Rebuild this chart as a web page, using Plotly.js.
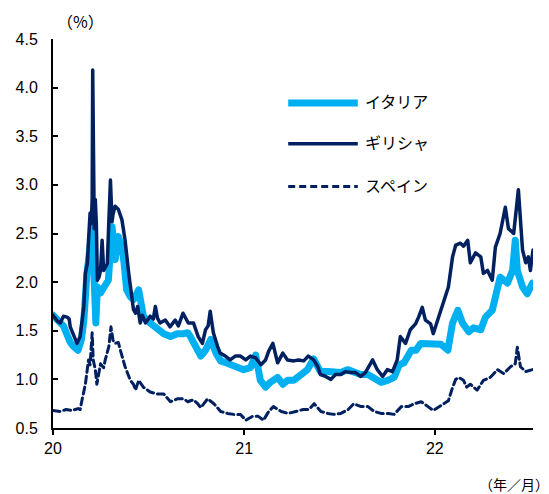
<!DOCTYPE html>
<html>
<head>
<meta charset="utf-8">
<script src="https://cdn.plot.ly/plotly-3.0.1.min.js"></script>
<style>
  html, body { margin: 0; padding: 0; background: #fff; }
  #chart { width: 549px; height: 494px; }
  .js-line { stroke-linejoin: round; stroke-linecap: round; }
</style>
</head>
<body>
<div id="chart"></div>
<script>
// 10-year government bond yields (%)
const seriesNames = ['イタリア', 'ギリシャ', 'スペイン'];

const italyDates = ['2020-01-01','2020-01-09','2020-01-15','2020-01-21','2020-01-28','2020-02-03','2020-02-09','2020-02-18','2020-02-24','2020-02-29',
  '2020-03-06','2020-03-12','2020-03-17','2020-03-20','2020-03-23','2020-03-26','2020-04-01','2020-04-09','2020-04-16','2020-04-23',
  '2020-04-29','2020-05-05','2020-05-12','2020-05-16','2020-05-21','2020-05-28','2020-06-03','2020-06-13','2020-06-22','2020-07-05',
  '2020-07-19','2020-07-31','2020-08-13','2020-08-26','2020-09-07','2020-09-15','2020-09-20','2020-09-26','2020-10-04','2020-10-10',
  '2020-10-19','2020-10-29','2020-11-08','2020-11-17','2020-11-27','2020-12-06','2020-12-20','2020-12-31','2021-01-13','2021-01-23',
  '2021-02-01','2021-02-11','2021-02-20','2021-03-06','2021-03-16','2021-03-25','2021-04-06','2021-04-19','2021-05-02','2021-05-14',
  '2021-05-27','2021-06-10','2021-06-21','2021-07-05','2021-07-18','2021-07-30','2021-08-12','2021-08-26','2021-09-06','2021-09-20',
  '2021-10-03','2021-10-15','2021-10-25','2021-11-03','2021-11-17','2021-11-26','2021-12-05','2021-12-24','2022-01-13','2022-01-26',
  '2022-02-04','2022-02-14','2022-02-23','2022-03-07','2022-03-16','2022-03-30','2022-04-08','2022-04-21','2022-05-01','2022-05-06',
  '2022-05-20','2022-05-30','2022-06-04','2022-06-08','2022-06-18','2022-06-27','2022-07-07'];
const italyValues = [1.66,1.60,1.58,1.55,1.44,1.38,1.34,1.30,1.40,1.60,
  2.09,2.36,2.60,2.00,1.58,1.95,1.89,1.96,2.02,2.57,
  2.23,2.47,2.36,2.20,1.92,1.85,1.82,1.92,1.65,1.58,
  1.51,1.47,1.44,1.47,1.47,1.48,1.44,1.37,1.27,1.24,
  1.30,1.41,1.27,1.19,1.17,1.15,1.13,1.10,1.12,1.25,
  0.99,0.92,0.97,1.02,0.95,0.99,0.99,1.04,1.10,1.21,
  1.08,1.08,1.08,1.07,1.10,1.07,1.05,1.05,1.01,0.97,
  0.99,1.02,1.15,1.17,1.30,1.30,1.37,1.37,1.36,1.30,
  1.58,1.71,1.58,1.49,1.53,1.51,1.64,1.71,1.92,2.05,
  1.99,2.12,2.43,2.12,1.95,1.88,1.99];

const greeceDates = ['2020-01-01','2020-01-09','2020-01-15','2020-01-21','2020-01-28','2020-02-01','2020-02-03','2020-02-09','2020-02-16','2020-02-22',
  '2020-02-29','2020-03-03','2020-03-07','2020-03-09','2020-03-12','2020-03-14','2020-03-16','2020-03-17','2020-03-19','2020-03-20',
  '2020-03-22','2020-03-24','2020-03-26','2020-03-29','2020-04-01','2020-04-04','2020-04-07','2020-04-10','2020-04-14','2020-04-17',
  '2020-04-20','2020-04-23','2020-04-25','2020-04-29','2020-05-05','2020-05-12','2020-05-18','2020-05-25','2020-06-01','2020-06-03',
  '2020-06-07','2020-06-11','2020-06-16','2020-06-20','2020-06-26','2020-07-05','2020-07-11','2020-07-15','2020-07-19','2020-07-24',
  '2020-08-03','2020-08-12','2020-08-22','2020-08-28','2020-09-01','2020-09-06','2020-09-16','2020-09-26','2020-10-05','2020-10-13',
  '2020-10-19','2020-10-24','2020-10-28','2020-11-03','2020-11-11','2020-11-16','2020-11-26','2020-12-05','2020-12-15','2020-12-25',
  '2021-01-04','2021-01-13','2021-01-23','2021-02-02','2021-02-11','2021-02-17','2021-02-25','2021-03-06','2021-03-16','2021-03-25',
  '2021-04-06','2021-04-15','2021-04-25','2021-05-04','2021-05-14','2021-05-22','2021-05-27','2021-06-06','2021-06-16','2021-06-25',
  '2021-07-05','2021-07-14','2021-07-24','2021-08-02','2021-08-12','2021-08-21','2021-09-04','2021-09-13','2021-09-23','2021-10-02',
  '2021-10-12','2021-10-21','2021-10-27','2021-11-06','2021-11-15','2021-11-25','2021-12-01','2021-12-08','2021-12-14','2021-12-24',
  '2021-12-29','2022-01-06','2022-01-15','2022-01-21','2022-01-27','2022-02-04','2022-02-10','2022-02-19','2022-02-25','2022-03-05',
  '2022-03-10','2022-03-20','2022-03-30','2022-04-04','2022-04-12','2022-04-21','2022-04-27','2022-05-06','2022-05-16','2022-05-22',
  '2022-06-01','2022-06-10','2022-06-14','2022-06-18','2022-06-24','2022-06-29','2022-07-03','2022-07-08'];
const greeceValues = [1.66,1.60,1.58,1.65,1.64,1.62,1.54,1.45,1.37,1.44,
  1.75,2.09,2.20,2.43,2.71,2.60,2.85,4.18,3.00,2.55,
  2.85,2.60,2.02,2.05,2.12,2.43,2.12,2.15,2.19,2.64,
  3.05,2.62,2.70,2.78,2.75,2.64,2.43,2.09,1.82,1.72,
  1.68,1.75,1.58,1.66,1.58,1.65,1.62,1.75,1.63,1.58,
  1.61,1.54,1.61,1.55,1.61,1.68,1.58,1.58,1.44,1.37,
  1.51,1.55,1.70,1.48,1.34,1.27,1.24,1.20,1.24,1.24,
  1.20,1.24,1.22,1.15,1.20,1.29,1.37,1.17,1.27,1.20,
  1.19,1.20,1.19,1.24,1.20,1.13,1.05,1.03,1.00,1.05,
  1.05,1.08,1.07,1.07,1.03,1.07,1.20,1.10,1.03,1.10,
  1.08,1.20,1.44,1.37,1.51,1.57,1.64,1.74,1.61,1.57,
  1.47,1.61,1.74,1.85,1.95,2.26,2.38,2.40,2.37,2.43,
  2.20,2.30,2.26,2.09,2.12,2.02,2.36,2.50,2.77,2.55,
  2.50,2.95,2.60,2.33,2.20,2.26,2.12,2.33];

const spainDates = ['2020-01-01','2020-01-15','2020-01-26','2020-02-07','2020-02-18','2020-02-22','2020-02-26','2020-03-03','2020-03-09','2020-03-12',
  '2020-03-16','2020-03-18','2020-03-22','2020-03-25','2020-04-01','2020-04-07','2020-04-10','2020-04-17','2020-04-21','2020-04-25',
  '2020-04-29','2020-05-05','2020-05-09','2020-05-18','2020-05-28','2020-06-03','2020-06-07','2020-06-13','2020-06-22','2020-07-05',
  '2020-07-19','2020-07-31','2020-08-13','2020-08-26','2020-09-07','2020-09-15','2020-09-20','2020-09-26','2020-10-04','2020-10-10',
  '2020-10-23','2020-11-04','2020-11-17','2020-11-30','2020-12-12','2020-12-25','2021-01-04','2021-01-17','2021-01-28','2021-02-07',
  '2021-02-17','2021-02-26','2021-03-13','2021-03-26','2021-04-10','2021-04-24','2021-05-05','2021-05-15','2021-05-28','2021-06-10',
  '2021-06-22','2021-07-05','2021-07-19','2021-07-30','2021-08-13','2021-08-26','2021-09-07','2021-09-20','2021-10-04','2021-10-15',
  '2021-10-29','2021-11-11','2021-11-23','2021-12-06','2021-12-19','2021-12-29','2022-01-04','2022-01-18','2022-01-27','2022-02-03',
  '2022-02-10','2022-02-16','2022-02-25','2022-03-03','2022-03-10','2022-03-23','2022-04-04','2022-04-17','2022-05-01','2022-05-13',
  '2022-05-26','2022-06-04','2022-06-08','2022-06-14','2022-06-24','2022-07-07'];
const spainValues = [0.68,0.67,0.69,0.68,0.70,0.69,0.80,0.95,1.20,1.15,
  1.48,1.20,1.10,0.95,1.16,1.12,1.20,1.34,1.54,1.40,
  1.37,1.38,1.30,1.13,0.99,0.95,0.89,0.99,0.92,0.87,
  0.85,0.85,0.77,0.80,0.80,0.77,0.78,0.79,0.75,0.71,
  0.80,0.75,0.67,0.65,0.64,0.64,0.58,0.62,0.62,0.58,
  0.67,0.72,0.67,0.65,0.67,0.69,0.69,0.75,0.67,0.65,
  0.64,0.65,0.69,0.75,0.72,0.72,0.67,0.65,0.65,0.64,
  0.72,0.72,0.75,0.77,0.72,0.68,0.70,0.75,0.78,0.90,
  1.00,1.02,0.99,0.92,0.95,0.89,0.99,1.02,1.10,1.06,
  1.13,1.16,1.33,1.13,1.08,1.10];

const yTicks = [0.5, 1.0, 1.5, 2.0, 2.5, 3.0, 3.5, 4.0, 4.5];
const yTickLabels = ['0.5', '1.0', '1.5', '2.0', '2.5', '3.0', '3.5', '4.0', '4.5'];
const xTicks = ['2020-01-01', '2021-01-01', '2022-01-01'];
const xTickLabels = ['20', '21', '22'];

const LIGHT = '#00B0F0';
const NAVY = '#002060';
const FONT = 'Liberation Sans, Arial, Noto Sans CJK JP, sans-serif';
const CJK = 'Noto Sans CJK JP, sans-serif';

const traces = [
  { x: italyDates, y: italyValues, name: seriesNames[0], type: 'scatter', mode: 'lines',
    line: { color: LIGHT, width: 7 } },
  { x: greeceDates, y: greeceValues, name: seriesNames[1], type: 'scatter', mode: 'lines',
    line: { color: NAVY, width: 3.5 } },
  { x: spainDates, y: spainValues, name: seriesNames[2], type: 'scatter', mode: 'lines',
    line: { color: NAVY, width: 3, dash: '7px,4px' } }
];

// legend block: sample line + label, stacked
const legendStyles = [
  { color: LIGHT, width: 7, dash: 'solid' },
  { color: NAVY, width: 3.5, dash: 'solid' },
  { color: NAVY, width: 3, dash: '7px,4px' }
];
const legendRows = [0.8355, 0.731, 0.621];
const shapes = [];
const annotations = [];
legendRows.forEach((yy, i) => {
  shapes.push({ type: 'line', xref: 'paper', yref: 'paper', x0: 0.49, x1: 0.635, y0: yy, y1: yy,
    line: legendStyles[i] });
  annotations.push({ xref: 'paper', yref: 'paper', x: 0.645, y: yy, xanchor: 'left', yanchor: 'middle',
    text: seriesNames[i], showarrow: false, font: { family: FONT, size: 16, color: '#000' } });
});
annotations.push({ xref: 'paper', yref: 'paper', x: 0.058, y: 1.045, xanchor: 'center', yanchor: 'middle',
  text: '（%）', showarrow: false, font: { family: CJK, size: 16, color: '#000' } });
annotations.push({ xref: 'paper', yref: 'paper', x: 0.883, y: -0.145, xanchor: 'left', yanchor: 'middle',
  text: '（年／月）', showarrow: false, font: { family: CJK, size: 14, color: '#000' } });

const layout = {
  width: 549, height: 494,
  margin: { l: 53, r: 16, t: 39, b: 66 },
  paper_bgcolor: '#fff', plot_bgcolor: '#fff',
  showlegend: false,
  font: { family: FONT, size: 16, color: '#000' },
  xaxis: {
    type: 'date', range: ['2020-01-01', '2022-07-08'],
    tickmode: 'array', tickvals: xTicks, ticktext: xTickLabels,
    ticks: 'outside', ticklen: 5, tickwidth: 2, tickcolor: '#000',
    showline: true, linecolor: '#000', linewidth: 2,
    showgrid: false, zeroline: false,
    tickfont: { family: FONT, size: 16, color: '#000' }
  },
  yaxis: {
    range: [0.5, 4.5],
    tickmode: 'array', tickvals: yTicks, ticktext: yTickLabels,
    ticks: 'inside', ticklen: 5, tickwidth: 2, tickcolor: '#000',
    showline: true, linecolor: '#000', linewidth: 2,
    showgrid: false, zeroline: false,
    ticklabelstandoff: 10,
    tickfont: { family: FONT, size: 16, color: '#000' }
  },
  shapes: shapes,
  annotations: annotations
};

Plotly.newPlot('chart', traces, layout, { staticPlot: true, displayModeBar: false });
</script>
</body>
</html>
